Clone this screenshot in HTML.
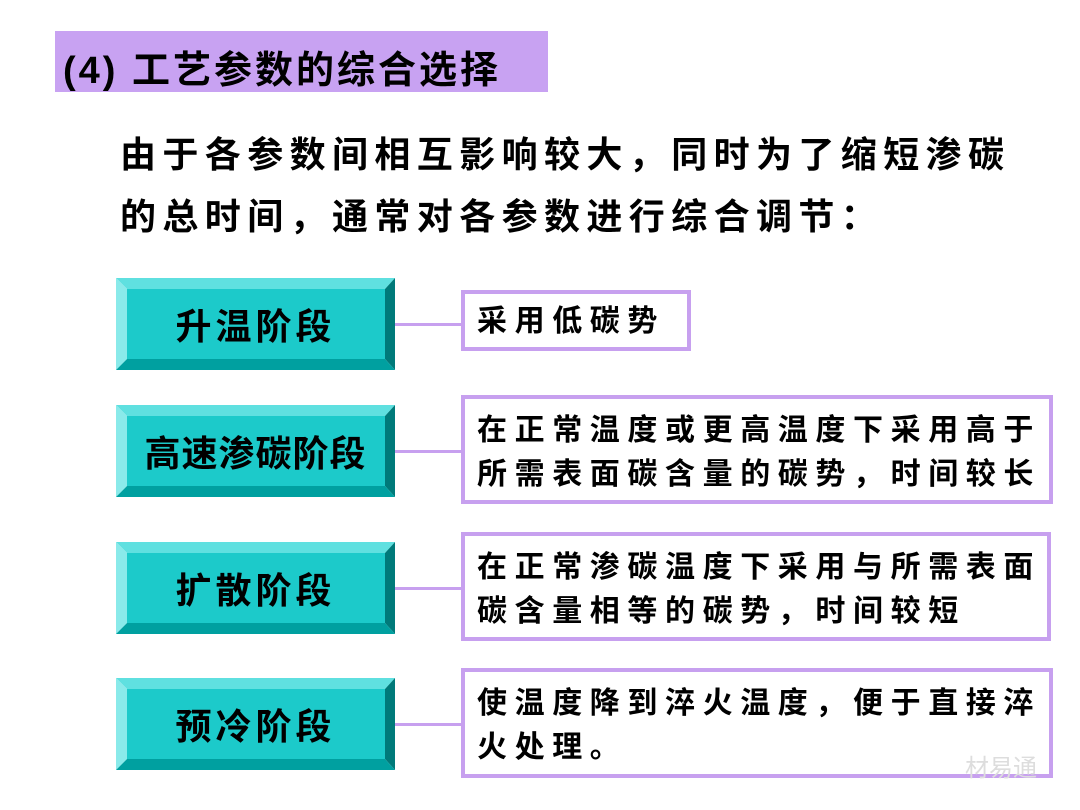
<!DOCTYPE html>
<html><head><meta charset="utf-8"><style>
body{margin:0;width:1080px;height:810px;background:#fff;position:relative;overflow:hidden;font-family:"Liberation Sans","Noto Sans CJK SC",sans-serif;font-weight:bold;color:#000}
.abs{position:absolute}
.hdr{left:55px;top:31px;width:493px;height:61px;background:#c8a2f2}
.hdr span{position:absolute;left:8px;top:8px;font-size:38px;letter-spacing:3px;white-space:nowrap}
.p{left:120px;font-size:36px;letter-spacing:6.4px;white-space:nowrap}
.bx{left:116px;width:279px;height:92px}
.bx svg{position:absolute;left:0;top:0}
.bx div{position:absolute;left:0;top:0;width:279px;height:92px;display:flex;align-items:center;justify-content:center;font-size:36px;white-space:nowrap}
.rb{left:461px;border:4px solid #c7a0ef;box-sizing:border-box;font-size:30px;letter-spacing:7.6px;line-height:44px;padding:10px 0 0 12px;white-space:nowrap}
.ln{left:395px;width:66px;height:3px;background:#c7a0ef}
</style></head><body>
<div class="abs hdr"><span>(4) 工艺参数的综合选择</span></div>
<div class="abs p" style="top:126px">由于各参数间相互影响较大，同时为了缩短渗碳</div>
<div class="abs p" style="top:188px">的总时间，通常对各参数进行综合调节：</div>

<div class="abs bx" style="top:278px"><svg width="279" height="92"><polygon points="0,0 279,0 269,11 11,11" fill="#5fe0e0"/><polygon points="0,0 11,11 11,81 0,92" fill="#8aeaea"/><polygon points="279,0 279,92 269,81 269,11" fill="#007a7a"/><polygon points="0,92 11,81 269,81 279,92" fill="#00a0a0"/><rect x="11" y="11" width="258" height="70" fill="#1ccaca"/></svg><div style="letter-spacing:4px">升温阶段</div></div>
<div class="abs bx" style="top:405px"><svg width="279" height="92"><polygon points="0,0 279,0 269,11 11,11" fill="#5fe0e0"/><polygon points="0,0 11,11 11,81 0,92" fill="#8aeaea"/><polygon points="279,0 279,92 269,81 269,11" fill="#007a7a"/><polygon points="0,92 11,81 269,81 279,92" fill="#00a0a0"/><rect x="11" y="11" width="258" height="70" fill="#1ccaca"/></svg><div style="letter-spacing:1px">高速渗碳阶段</div></div>
<div class="abs bx" style="top:542px"><svg width="279" height="92"><polygon points="0,0 279,0 269,11 11,11" fill="#5fe0e0"/><polygon points="0,0 11,11 11,81 0,92" fill="#8aeaea"/><polygon points="279,0 279,92 269,81 269,11" fill="#007a7a"/><polygon points="0,92 11,81 269,81 279,92" fill="#00a0a0"/><rect x="11" y="11" width="258" height="70" fill="#1ccaca"/></svg><div style="letter-spacing:4px">扩散阶段</div></div>
<div class="abs bx" style="top:678px"><svg width="279" height="92"><polygon points="0,0 279,0 269,11 11,11" fill="#5fe0e0"/><polygon points="0,0 11,11 11,81 0,92" fill="#8aeaea"/><polygon points="279,0 279,92 269,81 269,11" fill="#007a7a"/><polygon points="0,92 11,81 269,81 279,92" fill="#00a0a0"/><rect x="11" y="11" width="258" height="70" fill="#1ccaca"/></svg><div style="letter-spacing:4px">预冷阶段</div></div>

<div class="abs ln" style="top:323px"></div>
<div class="abs ln" style="top:450px"></div>
<div class="abs ln" style="top:587px"></div>
<div class="abs ln" style="top:723px"></div>

<div class="abs rb" style="top:290px;width:230px;height:61px;padding-top:6px">采用低碳势</div>
<div class="abs rb" style="top:395px;width:592px;height:109px">在正常温度或更高温度下采用高于<br>所需表面碳含量的碳势，时间较长</div>
<div class="abs rb" style="top:532px;width:590px;height:109px">在正常渗碳温度下采用与所需表面<br>碳含量相等的碳势，时间较短</div>
<div class="abs rb" style="top:668px;width:592px;height:110px">使温度降到淬火温度，便于直接淬<br>火处理。</div>
<div class="abs" style="left:965px;top:748px;font-size:24px;font-weight:normal;color:#ddd">材易通</div>
</body></html>
